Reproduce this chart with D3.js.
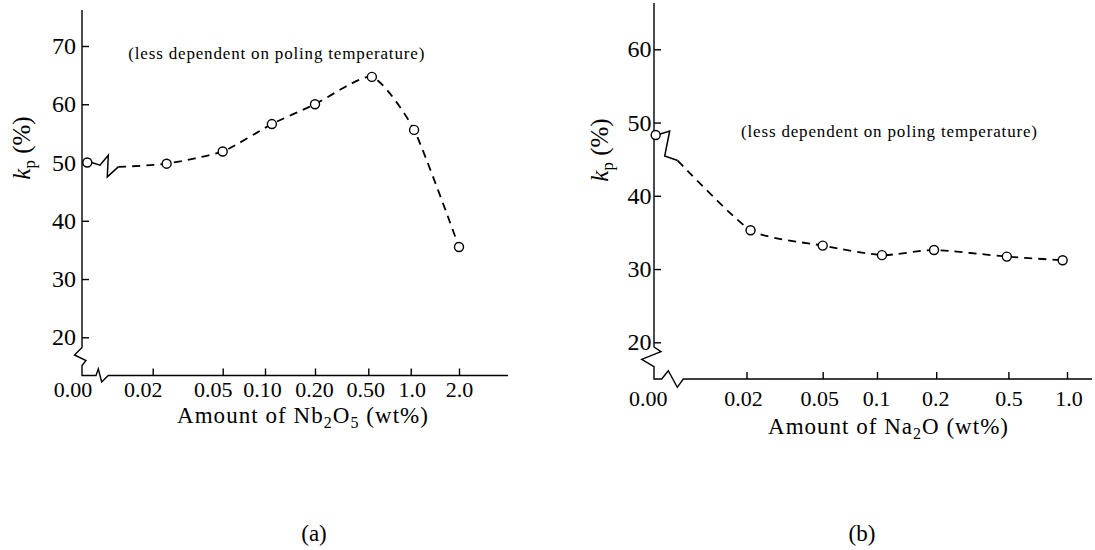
<!DOCTYPE html>
<html>
<head>
<meta charset="utf-8">
<script src="https://cdn.jsdelivr.net/npm/d3@7"></script>
<style>
  body { margin: 0; background: #fff; }
  svg { display: block; }
</style>
</head>
<body>
<div id="container"></div>
<script>
// (a) kp vs amount of Nb2O5
const nbAmount = [0, 0.024, 0.05, 0.11, 0.2, 0.53, 1.05, 2.0];
const nbKp = [50.0, 49.8, 51.9, 56.6, 60.0, 64.7, 55.6, 35.5];
const nbTicks = [0.02, 0.05, 0.1, 0.2, 0.5, 1.0, 2.0];
const nbTickLabels = ["0.02", "0.05", "0.10", "0.20", "0.50", "1.0", "2.0"];
const nbYTicks = [20, 30, 40, 50, 60, 70];

// (b) kp vs amount of Na2O
const naAmount = [0, 0.021, 0.05, 0.106, 0.195, 0.49, 0.95];
const naKp = [48.3, 35.3, 33.2, 31.9, 32.6, 31.7, 31.2];
const naTicks = [0.02, 0.05, 0.1, 0.2, 0.5, 1.0];
const naTickLabels = ["0.02", "0.05", "0.1", "0.2", "0.5", "1.0"];
const naYTicks = [20, 30, 40, 50, 60];

const note = "(less dependent on poling temperature)";

const width = 1095, height = 550;
const serif = "'Liberation Serif', 'Times New Roman', serif";

// layout of each panel (pixel positions only)
const panels = [
  {
    amount: nbAmount, kp: nbKp, ticks: nbTicks, tickLabels: nbTickLabels, yTicks: nbYTicks,
    yDomain: [20, 70], yRange: [337.3, 46],
    xRange: [152.7, 222.7, 265, 315, 368.3, 410.7, 459],
    labelDx: [-10, -10, -3, -1, -3, 1, 0],
    axisX: 82, axisTop: 10, axisY: 375.5, axisEnd: 508,
    zeroX: 87.3, zeroLabelX: 73, yPad: 6, xPad: 6,
    yBreak: [[0, -28], [-7.5, -20.5], [4, -15], [0, -10], [0, 0]],
    xBreak: [[14, 0], [16.3, -6.5], [19.7, 6.5], [26.3, 0]],
    dataBreak: [[4.4, 0], [12.7, 2.7], [21, -7.3], [20, 14.4], [31, 4.4]],
    noteX: 128.3, noteY: 58.5,
    yLabelX: 30, yLabelY: 148,
    xLabel: ["Amount of Nb", "2", "O", "5", " (wt%)"], xLabelX: 177, xLabelY: 423, xLabelLen: 251,
    caption: "(a)", captionX: 314
  },
  {
    amount: naAmount, kp: naKp, ticks: naTicks, tickLabels: naTickLabels, yTicks: naYTicks,
    yDomain: [20, 60], yRange: [342.3, 49.3],
    xRange: [746.5, 822.7, 877, 936.2, 1008.4, 1067],
    labelDx: [-3.5, -3.5, -1, -1, 0, 1.5],
    axisX: 654, axisTop: 3, axisY: 379, axisEnd: 1092,
    zeroX: 655.7, zeroLabelX: 648.3, yPad: 2.5, xPad: 11,
    yBreak: [[0, -32], [7, -27.3], [-12.3, -19.7], [0, -12.3], [0, 0]],
    xBreak: [[7.7, 0], [14.3, -8.3], [23.3, 8.3], [29.3, 0]],
    dataBreak: [[4.5, -1], [14, -4], [9, 21], [22, 25.5]],
    noteX: 741, noteY: 137,
    yLabelX: 608, yLabelY: 150,
    xLabel: ["Amount of Na", "2", "O", "", " (wt%)"], xLabelX: 768, xLabelY: 434, xLabelLen: 240,
    caption: "(b)", captionX: 862
  }
];

const svg = d3.select("#container").append("svg")
  .attr("width", width)
  .attr("height", height)
  .attr("font-family", serif);

panels.forEach(drawPanel);

function drawPanel(p) {
  const g = svg.append("g");

  const yScale = d3.scaleLinear().domain(p.yDomain).range(p.yRange);
  const xLog = d3.scaleLog().domain(p.ticks).range(p.xRange);
  const xScale = d => d === 0 ? p.zeroX : xLog(d);

  // broken axis lines
  const axisPts = [[p.axisX, p.axisTop]]
    .concat(p.yBreak.map(o => [p.axisX + o[0], p.axisY + o[1]]))
    .concat(p.xBreak.map(o => [p.axisX + o[0], p.axisY + o[1]]))
    .concat([[p.axisEnd, p.axisY]]);
  g.append("path")
    .attr("d", d3.line()(axisPts))
    .attr("fill", "none")
    .attr("stroke", "#000")
    .attr("stroke-width", 1.4);

  // x axis ticks (pointing inward)
  const xAxis = d3.axisBottom(xLog)
    .tickValues(p.ticks)
    .tickFormat((d, i) => p.tickLabels[i])
    .tickSizeInner(-7)
    .tickSizeOuter(0)
    .tickPadding(p.xPad);
  g.append("g")
    .attr("transform", `translate(0,${p.axisY})`)
    .call(xAxis)
    .call(a => a.select(".domain").remove())
    .attr("font-family", serif)
    .attr("font-size", 22)
    .call(a => a.selectAll("line").attr("stroke-width", 1.4))
    .call(a => a.selectAll("text").attr("dx", (d, i) => p.labelDx[i]));

  g.append("text")
    .attr("x", p.zeroLabelX)
    .attr("y", p.axisY + p.xPad)
    .attr("dy", "0.71em")
    .attr("text-anchor", "middle")
    .attr("font-size", 22)
    .text("0.00");

  // y axis ticks
  const yAxis = d3.axisLeft(yScale)
    .tickValues(p.yTicks)
    .tickFormat(d3.format("d"))
    .tickSizeInner(-7)
    .tickSizeOuter(0)
    .tickPadding(p.yPad);
  g.append("g")
    .attr("transform", `translate(${p.axisX},0)`)
    .call(yAxis)
    .call(a => a.select(".domain").remove())
    .attr("font-family", serif)
    .attr("font-size", 24)
    .call(a => a.selectAll("line").attr("stroke-width", 1.4));

  // data
  const pts = p.amount.map((a, i) => [xScale(a), yScale(p.kp[i])]);
  const first = pts[0];
  const breakPts = [first].concat(p.dataBreak.map(o => [first[0] + o[0], first[1] + o[1]]));

  g.append("path")
    .attr("d", d3.line()(breakPts))
    .attr("fill", "none")
    .attr("stroke", "#000")
    .attr("stroke-width", 1.5);

  const curve = d3.line().curve(d3.curveCardinal.tension(0.4));
  g.append("path")
    .attr("d", curve([breakPts[breakPts.length - 1]].concat(pts.slice(1))))
    .attr("fill", "none")
    .attr("stroke", "#000")
    .attr("stroke-width", 1.8)
    .attr("stroke-dasharray", "8,6");

  g.selectAll("circle.dot")
    .data(p.amount)
    .join("circle")
    .attr("class", "dot")
    .attr("cx", d => xScale(d))
    .attr("cy", (d, i) => yScale(p.kp[i]))
    .attr("r", 4.5)
    .attr("fill", "#fff")
    .attr("stroke", "#000")
    .attr("stroke-width", 1.4);

  // note
  g.append("text")
    .attr("x", p.noteX)
    .attr("y", p.noteY)
    .attr("font-size", 17)
    .attr("textLength", 296)
    .attr("lengthAdjust", "spacing")
    .text(note);

  // y label: k_p (%)
  const yl = g.append("text")
    .attr("transform", `translate(${p.yLabelX},${p.yLabelY}) rotate(-90)`)
    .attr("text-anchor", "middle")
    .attr("font-size", 25);
  yl.append("tspan").attr("font-style", "italic").text("k");
  yl.append("tspan").attr("font-size", 17).attr("dy", 5).text("p");
  yl.append("tspan").attr("dy", -5).text(" (%)");

  // x label with subscripts
  const xl = g.append("text")
    .attr("x", p.xLabelX)
    .attr("y", p.xLabelY)
    .attr("font-size", 23)
    .attr("textLength", p.xLabelLen)
    .attr("lengthAdjust", "spacing");
  xl.append("tspan").text(p.xLabel[0]);
  xl.append("tspan").attr("font-size", 16).attr("dy", 5).text(p.xLabel[1]);
  xl.append("tspan").attr("dy", -5).text(p.xLabel[2]);
  if (p.xLabel[3]) {
    xl.append("tspan").attr("font-size", 16).attr("dy", 5).text(p.xLabel[3]);
    xl.append("tspan").attr("dy", -5).text(p.xLabel[4]);
  } else {
    xl.append("tspan").text(p.xLabel[4]);
  }

  // caption
  g.append("text")
    .attr("x", p.captionX)
    .attr("y", 541)
    .attr("text-anchor", "middle")
    .attr("font-size", 23)
    .text(p.caption);
}
</script>
</body>
</html>
